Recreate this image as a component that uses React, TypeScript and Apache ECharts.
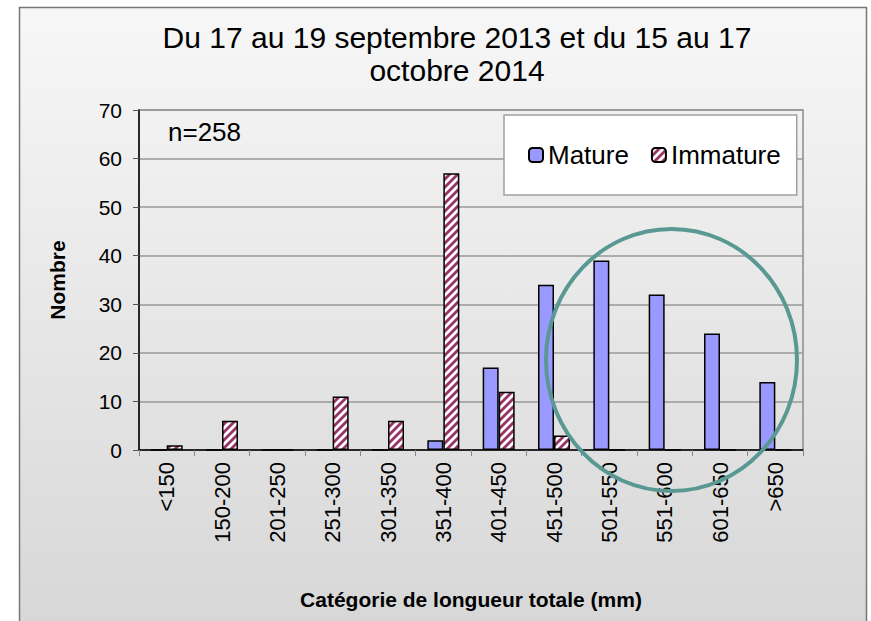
import React, { useEffect, useRef } from "react";
import * as echarts from "echarts";

const categories = ["<150", "150-200", "201-250", "251-300", "301-350", "351-400", "401-450", "451-500", "501-550", "551-600", "601-650", ">650"];
const matureValues = [0, 0, 0, 0, 0, 2, 17, 34, 39, 32, 24, 14];
const immatureValues = [1, 6, 0, 11, 6, 57, 12, 3, 0, 0, 0, 0];
const seriesNames = ["Mature", "Immature"];
const titleText = "Du 17 au 19 septembre 2013 et du 15 au 17\noctobre 2014";
const yAxisName = "Nombre";
const xAxisName = "Catégorie de longueur totale (mm)";
const noteText = "n=258";

const FONT = '"Liberation Sans", Arial, sans-serif';

function makeHatch(): HTMLCanvasElement {
  const c = document.createElement("canvas");
  c.width = 8;
  c.height = 8;
  const ctx = c.getContext("2d")!;
  ctx.fillStyle = "#ffffff";
  ctx.fillRect(0, 0, 8, 8);
  ctx.strokeStyle = "#993366";
  ctx.lineWidth = 2.8;
  for (const k of [-8, 0, 8]) {
    ctx.beginPath();
    ctx.moveTo(k - 2, 10);
    ctx.lineTo(k + 10, -2);
    ctx.stroke();
  }
  return c;
}

export default function App() {
  const ref = useRef<HTMLDivElement>(null);
  useEffect(() => {
    document.body.style.margin = "0";
    const chart = echarts.init(ref.current!, null, { renderer: "svg" });
    const hatch = { image: makeHatch(), repeat: "repeat", imageWidth: 8, imageHeight: 8 } as any;
    chart.setOption({
      animation: false,
      backgroundColor: "#ffffff",
      textStyle: { fontFamily: FONT },
      title: {
        text: titleText,
        left: 452,
        textAlign: "center",
        top: 16,
        textStyle: { fontFamily: FONT, fontSize: 30, fontWeight: "normal", color: "#000", lineHeight: 33 },
      },
      legend: {
        left: 504,
        top: 115,
        padding: [27, 16, 27, 24],
        backgroundColor: "#ffffff",
        borderColor: "#a0a0a0",
        borderWidth: 1.5,
        itemWidth: 14,
        itemHeight: 14,
        itemGap: 22,
        textStyle: { fontFamily: FONT, fontSize: 26, color: "#000" },
        data: seriesNames,
      },
      graphic: [
        {
          type: "rect",
          z: -10,
          silent: true,
          shape: { x: 19.5, y: 7.5, width: 847, height: 640 },
          style: {
            fill: new echarts.graphic.LinearGradient(0, 0, 0, 1, [
              { offset: 0, color: "#f7f7f7" },
              { offset: 1, color: "#d6d6d6" },
            ]),
            stroke: "#777777",
            lineWidth: 1.5,
          },
        },
        {
          type: "text",
          z: 10,
          left: 168,
          top: 119,
          style: { text: noteText, font: `26px ${FONT}`, fill: "#000" },
        },
        {
          type: "ellipse",
          z: 100,
          silent: true,
          shape: { cx: 671.5, cy: 360, rx: 125.5, ry: 131 },
          style: { fill: "none", stroke: "#5a9993", lineWidth: 4 },
        },
      ],
      grid: {
        left: 139,
        right: 68,
        top: 110,
        bottom: 171,
        show: true,
        borderColor: "#8c8c8c",
        borderWidth: 1.5,
        backgroundColor: "transparent",
      },
      xAxis: {
        type: "category",
        data: categories,
        name: xAxisName,
        nameLocation: "middle",
        nameGap: 139,
        nameTextStyle: { fontFamily: FONT, fontSize: 21, fontWeight: "bold", color: "#000" },
        axisLine: { lineStyle: { color: "#000", width: 1.5 } },
        axisTick: { show: true, length: 6, lineStyle: { color: "#888" } },
        axisLabel: { rotate: 90, margin: 12, fontFamily: FONT, fontSize: 22, color: "#000", interval: 0 },
      },
      yAxis: {
        type: "value",
        min: 0,
        max: 70,
        interval: 10,
        name: yAxisName,
        nameLocation: "middle",
        nameGap: 71,
        nameTextStyle: { fontFamily: FONT, fontSize: 21, fontWeight: "bold", color: "#000" },
        axisLine: { show: true, lineStyle: { color: "#000", width: 1.5 } },
        axisTick: { show: true, length: 6, lineStyle: { color: "#555" } },
        axisLabel: { margin: 17, fontFamily: FONT, fontSize: 21, color: "#000" },
        splitLine: { lineStyle: { color: "#999999", width: 1.5 } },
      },
      series: [
        {
          name: seriesNames[0],
          type: "bar",
          data: matureValues,
          barWidth: 16,
          barGap: "0%",
          itemStyle: { color: "#9999ff", borderColor: "#000", borderWidth: 1.5 },
        },
        {
          name: seriesNames[1],
          type: "bar",
          data: immatureValues,
          barWidth: 16,
          barGap: "0%",
          itemStyle: { color: hatch, borderColor: "#000", borderWidth: 1.5 },
        },
      ],
    });
    return () => chart.dispose();
  }, []);
  return <div ref={ref} style={{ width: 871, height: 621 }} />;
}
